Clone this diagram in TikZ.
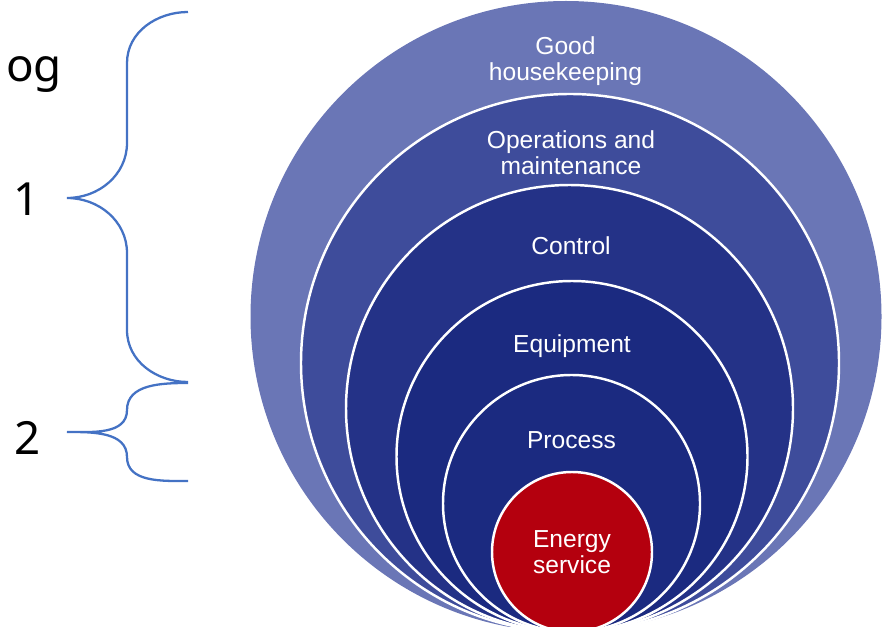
\documentclass[tikz,border=0pt]{standalone}
\usepackage{fontspec}
\setmainfont{Liberation Sans}
\newfontfamily\sidefont{Noto Sans}
\usetikzlibrary{positioning}
\definecolor{ringlight}{RGB}{106,118,182}
\definecolor{ringmid}{RGB}{62,76,155}
\definecolor{ringdark}{RGB}{36,50,135}
\definecolor{ringnavy}{RGB}{27,42,128}
\definecolor{servicered}{RGB}{180,0,14}
\definecolor{bracketblue}{RGB}{68,114,196}

\begin{document}
\begin{tikzpicture}[
  ring/.style={draw=white, line width=1.4pt},
  lbl/.style={text=white, font=\fontsize{14}{14.8}\selectfont, align=center, inner sep=0pt},
  side/.style={font=\sidefont\fontsize{26}{30}\selectfont, inner sep=0pt},
  brk/.style={draw=bracketblue, line width=1.3pt}
]
  \useasboundingbox (0,0) rectangle (17.7,12.52);

  % nested rings, all touching one point just below the frame
  \begin{scope}
    \clip (0,0) rectangle (17.7,12.52);
    \fill[ringlight] (11.32,6.19) circle (6.31);
    \filldraw[ring, fill=ringmid]    (11.40,5.26) circle (5.38);
    \filldraw[ring, fill=ringdark]   (11.39,4.35) circle (4.47);
    \filldraw[ring, fill=ringnavy]   (11.44,3.39) circle (3.51);
    \filldraw[ring, fill=ringnavy]   (11.43,2.45) circle (2.57);
    \filldraw[ring, fill=servicered] (11.44,1.48) circle (1.60);
  \end{scope}

  % ring labels
  \node[lbl] (good)    at (11.31,11.30) {Good\\housekeeping};
  \node[lbl] (ops)     at (11.42,9.46)  {Operations and\\maintenance};
  \node[lbl] (control) at (11.42,7.60)  {Control};
  \node[lbl] (equip)   at (11.44,5.60)  {Equipment};
  \node[lbl] (process) at (11.43,3.72)  {Process};
  \node[lbl] (service) at (11.44,1.47)  {Energy\\service};

  % side labels
  \node[side, anchor=base west] (og)  at (0.12,10.88) {og};
  \node[side, anchor=base]      (one) at (0.54,8.20)  {1};
  \node[side, anchor=base]      (two) at (0.55,3.44)  {2};

  % braces
  \draw[brk] (3.76,12.28) to[out=180,in=90] (2.54,11.26) -- (2.54,9.66)
    to[out=-90,in=0] (1.34,8.56) to[out=0,in=90] (2.54,7.46) -- (2.54,5.92)
    to[out=-90,in=180] (3.76,4.88);
  \draw[brk] (3.76,4.86) to[out=180,in=90] (2.54,4.32)
    to[out=-90,in=0] (1.34,3.88) to[out=0,in=90] (2.54,3.38)
    to[out=-90,in=180] (3.76,2.90);
\end{tikzpicture}
\end{document}
